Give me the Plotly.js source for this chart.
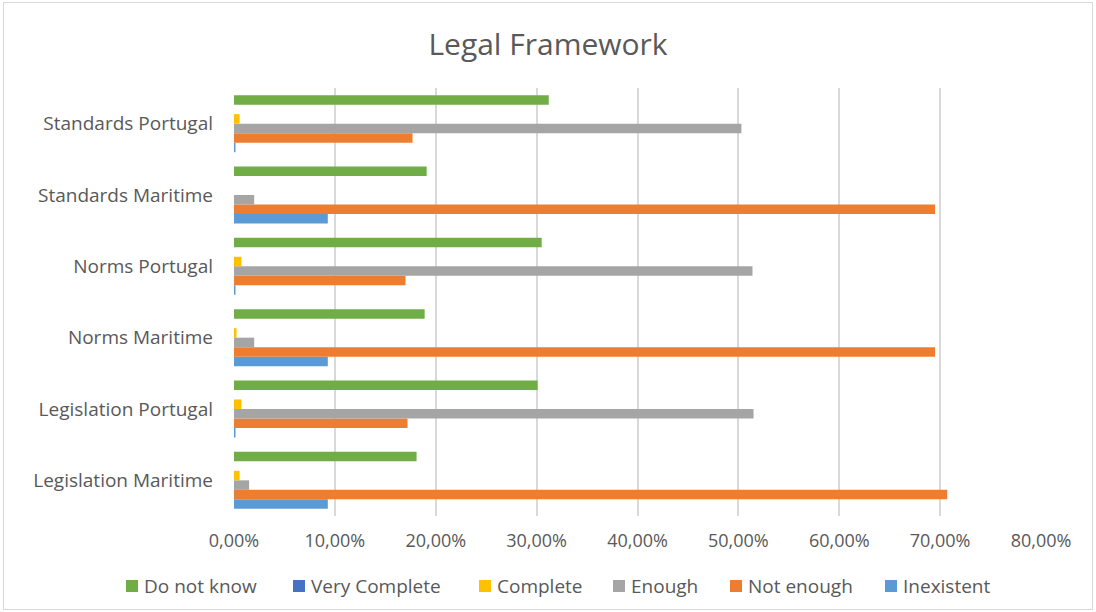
<!DOCTYPE html>
<html>
<head>
<meta charset="utf-8">
<script src="https://cdn.plot.ly/plotly-3.0.1.min.js"></script>
<style>
html,body{margin:0;padding:0;background:#fff;}
#wrap{position:absolute;left:3px;top:2px;width:1088px;height:606px;border:1px solid #d9d9d9;}
#chart{position:absolute;left:0;top:0;width:1096px;height:612px;}
</style>
</head>
<body>
<div id="wrap"></div>
<div id="chart"></div>
<script>
// Categories (bottom to top as drawn)
const categories = ["Legislation Maritime","Legislation Portugal","Norms Maritime","Norms Portugal","Standards Maritime","Standards Portugal"];

// Series values (fractions)
const inexistent    = [0.093, 0.0015, 0.093, 0.0015, 0.093, 0.0015];
const notEnough     = [0.707, 0.172, 0.695, 0.170, 0.695, 0.177];
const enough        = [0.015, 0.515, 0.020, 0.514, 0.020, 0.503];
const complete      = [0.0055, 0.0074, 0.0025, 0.0074, 0.0, 0.0055];
const veryComplete  = [0, 0, 0, 0, 0, 0];
const doNotKnow     = [0.181, 0.301, 0.189, 0.305, 0.191, 0.312];

const xTickVals = [0,0.1,0.2,0.3,0.4,0.5,0.6,0.7,0.8];

const seriesNames = ["Inexistent","Not enough","Enough","Complete","Very Complete","Do not know"];
const seriesData = [inexistent, notEnough, enough, complete, veryComplete, doNotKnow];
const seriesColors = ["#5B9BD5","#ED7D31","#A5A5A5","#FFC000","#4472C4","#70AD47"];

// Legend order as shown (left to right)
const legendOrder = ["Do not know","Very Complete","Complete","Enough","Not enough","Inexistent"];

const traces = seriesNames.map((n,i)=>({
  type:"bar", orientation:"h", name:n,
  y:categories, x:seriesData[i],
  marker:{color:seriesColors[i], line:{width:0}},
  hoverinfo:"x+name", showlegend:false
}));

// plot area geometry (pixels)
const M = {l:234, r:55, t:88, b:96};
const W = 1096, H = 612;
const PW = W - M.l - M.r, PH = H - M.t - M.b;
const px2x = p => (p - M.l) / PW;
const py2y = p => (H - M.b - p) / PH;

// legend item pixel positions (square left edge)
const legSquareX = [126, 293, 479, 613, 730, 885];
const legY = 586, SQ = 12;

const FONT = "Open Sans, sans-serif";
const shapes = [], annotations = [];
legendOrder.forEach((n,k)=>{
  const ci = seriesNames.indexOf(n);
  const x0 = legSquareX[k];
  shapes.push({type:"rect", xref:"paper", yref:"paper",
    x0:px2x(x0), x1:px2x(x0+SQ), y0:py2y(legY+SQ/2), y1:py2y(legY-SQ/2),
    fillcolor:seriesColors[ci], line:{width:0}});
  annotations.push({xref:"paper", yref:"paper", x:px2x(x0+SQ+4), y:py2y(legY),
    xanchor:"left", yanchor:"middle", showarrow:false, text:n,
    font:{family:FONT, size:19, color:"#595959"}});
});

const layout = {
  width:W, height:H,
  paper_bgcolor:"rgba(0,0,0,0)", plot_bgcolor:"rgba(0,0,0,0)",
  separators:", ",
  margin:M,
  title:{text:"Legal Framework", x:0.5, xanchor:"center", y:0.928, yanchor:"middle",
         font:{family:FONT, size:30, color:"#595959"}},
  barmode:"group", bargap:0.2, bargroupgap:0,
  xaxis:{range:[0,0.8], tickvals:xTickVals, tickformat:".2%",
         showgrid:true, gridcolor:"#d9d9d9", gridwidth:2, zeroline:false,
         showline:false, ticks:"", ticklen:0, ticklabelstandoff:12,
         tickfont:{family:FONT, size:18, color:"#595959"}},
  yaxis:{showgrid:false, zeroline:false, showline:false, ticks:"",
         ticklabelstandoff:20,
         tickfont:{family:FONT, size:19, color:"#595959"}},
  shapes:shapes, annotations:annotations,
  showlegend:false
};

Plotly.newPlot("chart", traces, layout, {displayModeBar:false, staticPlot:true});
</script>
</body>
</html>
